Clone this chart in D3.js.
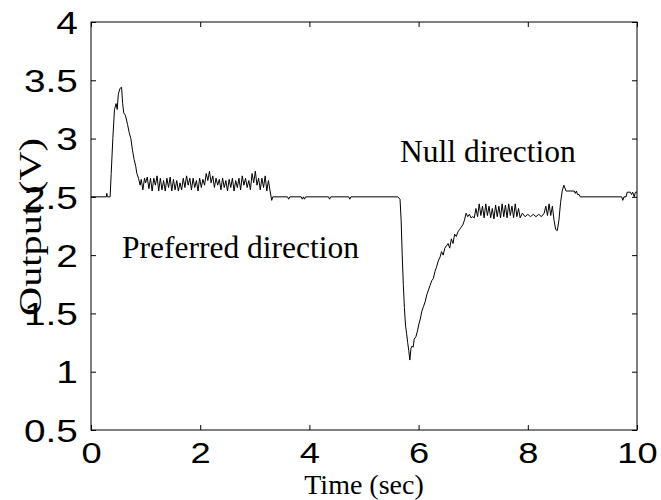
<!DOCTYPE html>
<html>
<head>
<meta charset="utf-8">
<script src="https://cdn.jsdelivr.net/npm/d3@7"></script>
<style>
  body { margin: 0; background: #fff; }
  .tick text { font-family: "Liberation Sans", Arial, sans-serif; }
  .lbl { font-family: "Liberation Serif", "Times New Roman", serif; fill: #000; }
</style>
</head>
<body>
<div id="chart"></div>
<script>

// --> DATA

var times = [
    0, 0.28, 0.29, 0.30, 0.35,
    0.37, 0.40, 0.43, 0.46, 0.48, 0.50, 0.53, 0.56, 0.58, 0.60, 0.63, 0.67, 0.70, 0.73, 0.76, 0.79, 0.82, 0.84, 0.87, 0.90,
    0.92, 0.95, 0.98, 1.00, 1.03, 1.06, 1.09, 1.12, 1.15, 1.18, 1.21, 1.24, 1.27, 1.30, 1.33, 1.36, 1.39, 1.42, 1.45, 1.48,
    1.51, 1.54, 1.57, 1.60, 1.63, 1.66, 1.69, 1.72, 1.75, 1.78, 1.81, 1.84, 1.87, 1.90, 1.93, 1.96, 1.99, 2.02, 2.05, 2.08,
    2.11, 2.14, 2.17, 2.20, 2.23, 2.26, 2.29, 2.32, 2.35, 2.38, 2.41, 2.44, 2.47, 2.50, 2.53, 2.56, 2.59, 2.62, 2.65, 2.68,
    2.71, 2.74, 2.77, 2.80, 2.83, 2.86, 2.89, 2.92, 2.95, 2.98, 3.01, 3.04, 3.07, 3.10, 3.13, 3.16, 3.19, 3.22, 3.25, 3.28,
    3.31, 3.33,
    3.60, 3.62, 3.64, 3.85, 3.87, 3.89, 3.91, 3.93, 4.35, 4.37, 4.39, 4.72, 4.74, 4.76, 5.62, 5.66,
    5.68, 5.70, 5.72, 5.74, 5.76, 5.78, 5.80, 5.82, 5.84, 5.86, 5.88, 5.90, 5.92, 5.95, 5.98, 6.00, 6.03, 6.06, 6.09, 6.12,
    6.15, 6.18, 6.21, 6.24, 6.27, 6.30, 6.33, 6.36, 6.39, 6.42, 6.45, 6.48, 6.51, 6.54, 6.57, 6.60, 6.63, 6.66, 6.69, 6.72,
    6.75, 6.78, 6.81, 6.84, 6.87, 6.90, 6.93, 6.96, 6.99, 7.02,
    7.05, 7.08, 7.11, 7.14, 7.17, 7.20, 7.23, 7.26, 7.29, 7.32, 7.35, 7.38, 7.41, 7.44, 7.47, 7.50, 7.53, 7.56, 7.59, 7.62,
    7.65, 7.68, 7.71, 7.74, 7.77, 7.80, 7.83, 7.86, 7.90,
    7.95, 8.00, 8.05, 8.10, 8.15, 8.20, 8.25, 8.30, 8.33, 8.36, 8.39, 8.42, 8.45, 8.48, 8.51, 8.54, 8.57, 8.60, 8.63, 8.66,
    8.70, 8.85, 8.87, 8.89, 8.91, 8.94, 8.96, 9.72, 9.74, 9.76, 9.80, 9.82, 9.88, 9.90, 9.92, 9.95, 9.97, 10
];

var volts = [
    2.5, 2.5, 2.53, 2.5, 2.5,
    2.7, 3.0, 3.25, 3.3, 3.25, 3.38, 3.43, 3.44, 3.3, 3.22, 3.2, 3.12, 3.05, 3.0, 2.9, 2.82, 2.76, 2.7, 2.66, 2.6,
    2.65, 2.56, 2.66, 2.62, 2.67, 2.57, 2.66, 2.55, 2.66, 2.6, 2.68, 2.55, 2.66, 2.56, 2.64, 2.55, 2.66, 2.58, 2.67, 2.55,
    2.65, 2.56, 2.64, 2.55, 2.62, 2.56, 2.66, 2.58, 2.68, 2.6, 2.66, 2.56, 2.66, 2.58, 2.64, 2.55, 2.66, 2.58, 2.65, 2.6,
    2.7, 2.64, 2.72, 2.62, 2.68, 2.58, 2.66, 2.6, 2.65, 2.56, 2.66, 2.58, 2.64, 2.55, 2.65, 2.58, 2.66, 2.55, 2.64, 2.58,
    2.66, 2.56, 2.68, 2.6, 2.66, 2.58, 2.64, 2.56, 2.7, 2.62, 2.72, 2.6, 2.66, 2.56, 2.66, 2.58, 2.68, 2.55, 2.64, 2.55,
    2.47, 2.5,
    2.5, 2.48, 2.5, 2.5, 2.48, 2.5, 2.48, 2.5, 2.5, 2.48, 2.5, 2.5, 2.48, 2.5, 2.5, 2.48,
    2.3, 2.0, 1.75, 1.55, 1.4, 1.33, 1.25, 1.18, 1.1, 1.2, 1.22, 1.21, 1.28, 1.3, 1.35, 1.4, 1.45, 1.52, 1.56, 1.6,
    1.66, 1.7, 1.74, 1.78, 1.8, 1.86, 1.9, 1.95, 1.98, 2.03, 2.0, 2.06, 2.08, 2.1, 2.06, 2.14, 2.1, 2.18, 2.16, 2.2,
    2.22, 2.24, 2.26, 2.3, 2.36, 2.33, 2.35, 2.32, 2.33, 2.32,
    2.4, 2.33, 2.44, 2.34, 2.42, 2.32, 2.44, 2.34, 2.42, 2.32, 2.4, 2.31, 2.43, 2.33, 2.42, 2.32, 2.44, 2.33, 2.43, 2.32,
    2.44, 2.34, 2.42, 2.32, 2.44, 2.33, 2.4, 2.32, 2.36,
    2.33, 2.35, 2.33, 2.35, 2.33, 2.35, 2.33, 2.36, 2.42, 2.34, 2.44, 2.34, 2.42, 2.3, 2.22, 2.21, 2.3, 2.45, 2.55, 2.6,
    2.55, 2.55, 2.53, 2.55, 2.52, 2.52, 2.5, 2.5, 2.47, 2.5, 2.5, 2.54, 2.54, 2.52, 2.54, 2.5, 2.54, 2.54
];

var xTicks = [0, 2, 4, 6, 8, 10];
var yTicks = [0.5, 1, 1.5, 2, 2.5, 3, 3.5, 4];

// --> CREATE SVG DRAWING AREA

var width = 661,
    height = 500;

var margin = {top: 22, right: 24, bottom: 70, left: 91};

var plotW = width - margin.left - margin.right,
    plotH = height - margin.top - margin.bottom;

var svg = d3.select("#chart").append("svg")
    .attr("width", width)
    .attr("height", height)
    .style("background", "#fff");

var g = svg.append("g")
    .attr("transform", "translate(" + margin.left + "," + margin.top + ")");

var x = d3.scaleLinear().domain([0, 10]).range([0, plotW]);
var y = d3.scaleLinear().domain([0.5, 4]).range([plotH, 0]);

// box
g.append("rect")
    .attr("width", plotW)
    .attr("height", plotH)
    .style("fill", "none")
    .style("stroke", "#000")
    .style("stroke-width", 1);

// axes, ticks pointing inward like matlab
var xAxis = g.append("g")
    .attr("transform", "translate(0," + plotH + ")")
    .call(d3.axisBottom(x).tickValues(xTicks).tickSize(-5).tickFormat(d3.format("d")));

var yAxis = g.append("g")
    .call(d3.axisLeft(y).tickValues(yTicks).tickSize(-5).tickFormat(function (d) { return d; }));

g.append("g")
    .call(d3.axisTop(x).tickValues(xTicks).tickSize(-5).tickFormat(""));

g.append("g")
    .attr("transform", "translate(" + plotW + ",0)")
    .call(d3.axisRight(y).tickValues(yTicks).tickSize(-5).tickFormat(""));

g.selectAll(".domain").remove();
g.selectAll(".tick line").style("stroke", "#000");

// the tick font in the original is a wide helvetica, so stretch it a bit
xAxis.selectAll("text")
    .style("font-size", "29px")
    .attr("dy", null)
    .attr("transform", "scale(1.25,1)")
    .attr("y", 33);

yAxis.selectAll("text")
    .style("font-size", "31px")
    .attr("dy", "0.36em")
    .attr("x", -10.5)
    .attr("transform", "scale(1.25,1)");

// trace
var trace = times.map(function (t, i) { return [t, volts[i]]; });

var line = d3.line()
    .x(function (d) { return x(d[0]); })
    .y(function (d) { return y(d[1]); });

g.append("path")
    .datum(trace)
    .attr("d", line)
    .style("fill", "none")
    .style("stroke", "#000")
    .style("stroke-width", 1);

// labels
svg.append("text")
    .attr("class", "lbl")
    .attr("x", margin.left + plotW / 2)
    .attr("y", 493.5)
    .attr("text-anchor", "middle")
    .style("font-size", "28px")
    .text("Time (sec)");

svg.append("text")
    .attr("class", "lbl")
    .attr("transform", "translate(41,227) rotate(-90) scale(1.3,1)")
    .attr("text-anchor", "middle")
    .style("font-size", "31px")
    .text("Output (V)");

svg.append("text")
    .attr("class", "lbl")
    .attr("x", 400)
    .attr("y", 162)
    .style("font-size", "31.5px")
    .text("Null direction");

svg.append("text")
    .attr("class", "lbl")
    .attr("x", 122)
    .attr("y", 258)
    .style("font-size", "31.5px")
    .text("Preferred direction");

</script>
</body>
</html>
